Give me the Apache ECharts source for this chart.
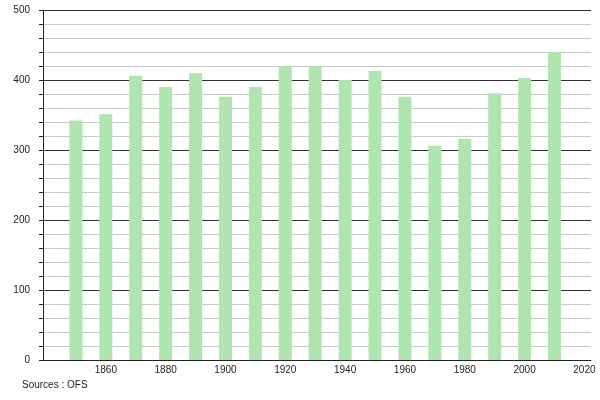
<!DOCTYPE html>
<html><head><meta charset="utf-8">
<script src="https://cdn.jsdelivr.net/npm/echarts@6/dist/echarts.min.js"></script>
<style>html,body{margin:0;padding:0;background:#fff}#c{width:600px;height:400px}</style>
</head><body><div id="c"></div>
<script>
const years = [1850,1860,1870,1880,1890,1900,1910,1920,1930,1940,1950,1960,1970,1980,1990,2000,2010];
const population = [342,351,406,390,410,376,390,420,420,400,413,376,306,316,381,403,440];
const xTickLabels = [1860,1880,1900,1920,1940,1960,1980,2000,2020];
const sourceText = 'Sources : OFS';

const chart = echarts.init(document.getElementById('c'), null, {renderer:'canvas'});
const font = 'Liberation Sans, Arial, sans-serif';
chart.setOption({
  animation: false,
  grid: {left: 43, right: 9, top: 10, bottom: 40, containLabel: false},
  xAxis: {
    type: 'value', min: 1839, max: 2022.2,
    splitLine: {show: false},
    axisTick: {show: false},
    axisLine: {show: true, lineStyle: {color: '#222', width: 1}},
    axisLabel: {
      color: '#222', fontFamily: font, fontSize: 10, margin: 5,
      customValues: xTickLabels,
      formatter: v => String(v)
    }
  },
  yAxis: {
    type: 'value', min: 0, max: 500, interval: 20,
    axisLine: {show: true, lineStyle: {color: '#222', width: 1}},
    axisTick: {show: true, length: 4, lineStyle: {color: '#222'}},
    splitLine: {show: true, lineStyle: {color: ['#333','#c8c8c8','#c8c8c8','#c8c8c8','#c8c8c8'], width: 1}},
    axisLabel: {
      color: '#222', fontFamily: font, fontSize: 10, margin: 13,
      formatter: v => (v % 100 === 0) ? String(v) : ''
    }
  },
  series: [{
    type: 'bar',
    data: years.map((y, i) => [y, population[i]]),
    barWidth: 13,
    itemStyle: {color: '#b0e4b0'}
  }],
  graphic: [{
    type: 'text', left: 22, top: 380,
    style: {text: sourceText, fill: '#222', font: '10px ' + font}
  }]
});
</script></body></html>
